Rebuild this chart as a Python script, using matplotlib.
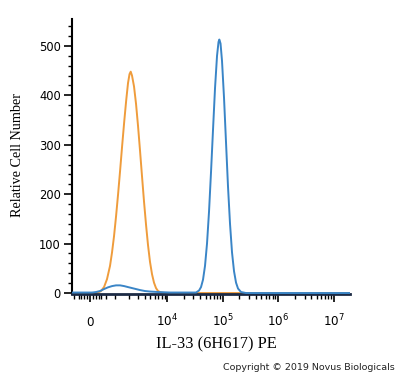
import numpy as np
import matplotlib
matplotlib.use('Agg')
import matplotlib.pyplot as plt

# Fluorescence intensity (PE channel) and relative cell counts
orange_x = [-671, 0, 170, 277, 387, 504, 627, 762, 857, 959, 1068, 1186, 1312, 1447,
            1593, 1749, 1900, 2032, 2143, 2271, 2480, 2705, 2950, 3214, 3500, 3810,
            4150, 4510, 4906, 5340, 5800, 6310, 6865, 7780, 9200, 1.98e7]
orange_y = [0, 0, 0, 1, 4, 12, 28, 55, 82, 115, 155, 200, 248, 298,
            346, 390, 425, 443, 448, 440, 418, 383, 338, 288, 236, 185,
            138, 97, 63, 38, 21, 10, 4, 1, 0, 0]

blue_x = [-671, -171, 68, 206, 350, 504, 671, 857, 1068, 1312, 1593, 1900, 2271,
          2705, 3214, 3977, 4906, 6865, 11300, 21100, 33330, 37720, 41000, 44530,
          48380, 52560, 57150, 62070, 67400, 73310, 79620, 84710, 87580, 92090,
          97910, 106440, 115620, 125620, 136530, 148340, 161210, 175150, 190320,
          215580, 265190, 1.98e7]
blue_y = [1, 1, 1, 2, 4, 8, 11.5, 14, 15.5, 15.5, 14, 12, 10,
          8, 6, 4, 3, 2, 1, 1, 1, 5, 12, 27,
          55, 100, 165, 245, 330, 415, 480, 508, 513, 505,
          470, 395, 305, 215, 140, 82, 44, 21, 9,
          2, 0, 0]

xticks = [0, 1e4, 1e5, 1e6, 1e7]
xticklabels = ['0', '$10^4$', '$10^5$', '$10^6$', '$10^7$']
yticks = [0, 100, 200, 300, 400, 500]

# biexponential-like display scale
W = 820.0
def fwd(x):
    return np.arcsinh(np.asarray(x, dtype=float) / W)
def inv(y):
    return W * np.sinh(np.asarray(y, dtype=float))

minor = []
for s in [-1, 1]:
    for m in [100, 200, 300, 400, 600]:
        minor.append(s * m)
for dec in [1e3, 1e4, 1e5, 1e6]:
    for m in range(2 if dec > 1e3 else 1, 10):
        minor.append(m * dec)

fig = plt.figure(figsize=(4.0, 3.78), dpi=100)
ax = fig.add_axes([0.18, 0.2209, 0.695, 0.7294])
ax.set_xscale('function', functions=(fwd, inv))

ax.plot(orange_x, orange_y, color='#EF9C3C', lw=1.4, zorder=2)
ax.plot(blue_x, blue_y, color='#3A85C7', lw=1.4, zorder=3)

ax.set_xlim(-671, 1.98e7)
ax.set_ylim(-3, 555)

ax.set_xticks(xticks)
ax.set_xticklabels(xticklabels)
ax.set_xticks([m for m in minor if m not in xticks], minor=True)
ax.set_yticks(yticks)
ax.set_yticks(np.arange(0, 555, 20), minor=True)

for sp in ['top', 'right']:
    ax.spines[sp].set_visible(False)
ax.spines['left'].set_linewidth(1.5)
ax.spines['bottom'].set_linewidth(2.0)
ax.spines['bottom'].set_color('#1c2a44')

ax.tick_params(axis='y', which='major', length=6, width=1.2, labelsize=8.3, pad=2)
ax.tick_params(axis='y', which='minor', length=3, width=1.0)
ax.tick_params(axis='x', which='major', length=6, width=1.2, labelsize=8.6, pad=17)
ax.tick_params(axis='x', which='minor', length=3.5, width=1.0)
for lab in ax.get_xticklabels():
    lab.set_va('baseline')

ax.set_ylabel('Relative Cell Number', family='Liberation Serif', fontsize=10.2, va='center')
ax.yaxis.set_label_coords(-0.196, 0.506)
ax.set_xlabel('IL-33 (6H617) PE', family='Liberation Serif', fontsize=11.8, va='center')
ax.xaxis.set_label_coords(0.52, -0.18)

fig.text(0.9875, 0.028, 'Copyright \u00a9 2019 Novus Biologicals', ha='right', va='center',
         fontsize=6.8, color='#222222')

plt.savefig('out.png', dpi=100)
